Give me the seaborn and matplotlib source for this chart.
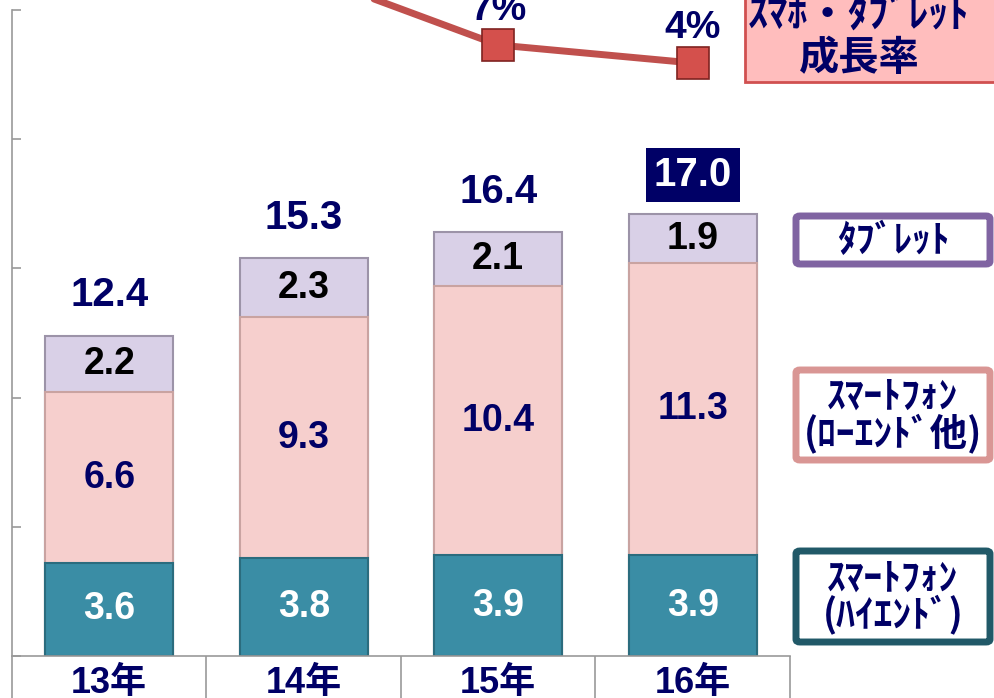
import numpy as np
import matplotlib
matplotlib.use("Agg")
import matplotlib.pyplot as plt
import seaborn as sns
from matplotlib.patches import FancyBboxPatch, Rectangle

# data
years = ["13年", "14年", "15年", "16年"]
high_end = [3.6, 3.8, 3.9, 3.9]
low_end = [6.6, 9.3, 10.4, 11.3]
tablet = [2.2, 2.3, 2.1, 1.9]
totals = [12.4, 15.3, 16.4, 17.0]
growth = [np.nan, 19, 7, 4]  # %, 13年/14年 off the top of the picture

NAVY = "#000066"
TEAL = "#3A8DA5"
PINK = "#F6CFCD"
LAVENDER = "#D9D0E7"
RED = "#C0504D"

W, H = 995, 698


def fx(x):
    return x / W


def fy(y):
    return 1 - y / H


sns.set_theme(style="white")
plt.rcParams["font.family"] = ["Liberation Sans", "Noto Sans CJK JP", "DejaVu Sans"]
plt.rcParams["font.weight"] = "bold"

fig = plt.figure(figsize=(W / 100, H / 100), dpi=100)
ax = fig.add_axes([fx(12), 42 / H, 778 / W, 646 / H])

# stacked bars: draw cumulative heights back to front
high = np.array(high_end)
mid = high + np.array(low_end)
top = mid + np.array(tablet)
x = np.arange(len(years))

sns.barplot(x=x, y=top, color=LAVENDER, saturation=1, width=0.66,
            edgecolor="#9C93A8", linewidth=1.5, ax=ax)
sns.barplot(x=x, y=mid, color=PINK, saturation=1, width=0.66,
            edgecolor="#C9A3A1", linewidth=1.5, ax=ax)
sns.barplot(x=x, y=high, color=TEAL, saturation=1, width=0.66,
            edgecolor="#2B6C7E", linewidth=1.5, ax=ax)

for i in range(len(years)):
    ax.text(i, high[i] / 2, f"{high_end[i]:.1f}", ha="center", va="center",
            fontsize=27, fontweight="bold", color="white")
    ax.text(i, high[i] + low_end[i] / 2, f"{low_end[i]:.1f}", ha="center", va="center",
            fontsize=27, fontweight="bold", color=NAVY)
    ax.text(i, mid[i] + tablet[i] / 2, f"{tablet[i]:.1f}", ha="center", va="center",
            fontsize=27, fontweight="bold", color="black")
    if i == len(years) - 1:
        ax.annotate(f"{totals[i]:.1f}", (i, top[i]), xytext=(0, 28), textcoords="offset points",
                    ha="center", va="center", fontsize=29, fontweight="bold", color="white",
                    bbox=dict(boxstyle="square,pad=0.2", fc=NAVY, ec="none"))
    else:
        ax.annotate(f"{totals[i]:.1f}", (i, top[i]), xytext=(0, 29), textcoords="offset points",
                    ha="center", va="center", fontsize=29, fontweight="bold", color=NAVY)

ax.set_xlim(-0.5, len(years) - 0.5)
ax.set_ylim(0, 25)
ax.set_yticks(np.arange(0, 26, 5))
ax.set_yticklabels([])
ax.tick_params(axis="y", direction="in", length=6.5, width=1.2, color="#999999", left=True)
ax.set_xticks(x)
ax.set_xticklabels(years, fontsize=26, fontweight="bold", color=NAVY)
ax.tick_params(axis="x", which="major", length=0, pad=7)
ax.set_xticks(np.arange(-0.5, len(years), 1), minor=True)
ax.tick_params(axis="x", which="minor", direction="out", length=34, width=1.2,
               color="#999999", bottom=True)
ax.set_xlabel("")
ax.set_ylabel("")
for side in ["top", "right"]:
    ax.spines[side].set_visible(False)
for side in ["left", "bottom"]:
    ax.spines[side].set_color("#999999")
    ax.spines[side].set_linewidth(1.2)

# growth line on its own scale
ax2 = ax.twinx()
sns.lineplot(x=x, y=growth, color=RED, linewidth=5, marker="s", markersize=23,
             markerfacecolor="#D4504C", markeredgecolor="#7F2320", markeredgewidth=1.2,
             clip_on=False, ax=ax2)
ax2.set_ylim(-94.83, 12.83)
ax2.set_axis_off()
for i, g in enumerate(growth):
    if not np.isnan(g):
        ax2.annotate(f"{g:.0f}%", (i, g), xytext=(0, 25), textcoords="offset points",
                     ha="center", va="center", fontsize=28, fontweight="bold", color=NAVY,
                     annotation_clip=False)

# legend boxes
jp = ["Noto Sans CJK JP", "DejaVu Sans"]
fig.patches.append(Rectangle((fx(745), fy(82)), fx(260), 92 / H, transform=fig.transFigure,
                             fc="#FFBDBD", ec="#D05050", lw=2))
fig.text(fx(859), fy(37), "ｽﾏﾎ・ﾀﾌﾞﾚｯﾄ\n成長率", ha="center", va="center", fontsize=29,
         fontweight="bold", color=NAVY, family=jp, linespacing=1.05)

legend_items = [
    ("ﾀﾌﾞﾚｯﾄ", "#8064A2", 213, 267),
    ("ｽﾏｰﾄﾌｫﾝ\n(ﾛｰｴﾝﾄﾞ他)", "#D99694", 367, 463),
    ("ｽﾏｰﾄﾌｫﾝ\n(ﾊｲｴﾝﾄﾞ)", "#215968", 548, 645),
]
for label, ec, y0, y1 in legend_items:
    fig.patches.append(FancyBboxPatch((fx(796), fy(y1 - 3)), fx(194), (y1 - y0 - 6) / H,
                                      boxstyle="round,pad=0,rounding_size=0.004",
                                      transform=fig.transFigure, fc="white", ec=ec, lw=5))
    fig.text(fx(893), fy((y0 + y1) / 2), label, ha="center", va="center", fontsize=27,
             fontweight="bold", color=NAVY, family=jp, linespacing=0.9)

fig.savefig("out.png", dpi=100)
